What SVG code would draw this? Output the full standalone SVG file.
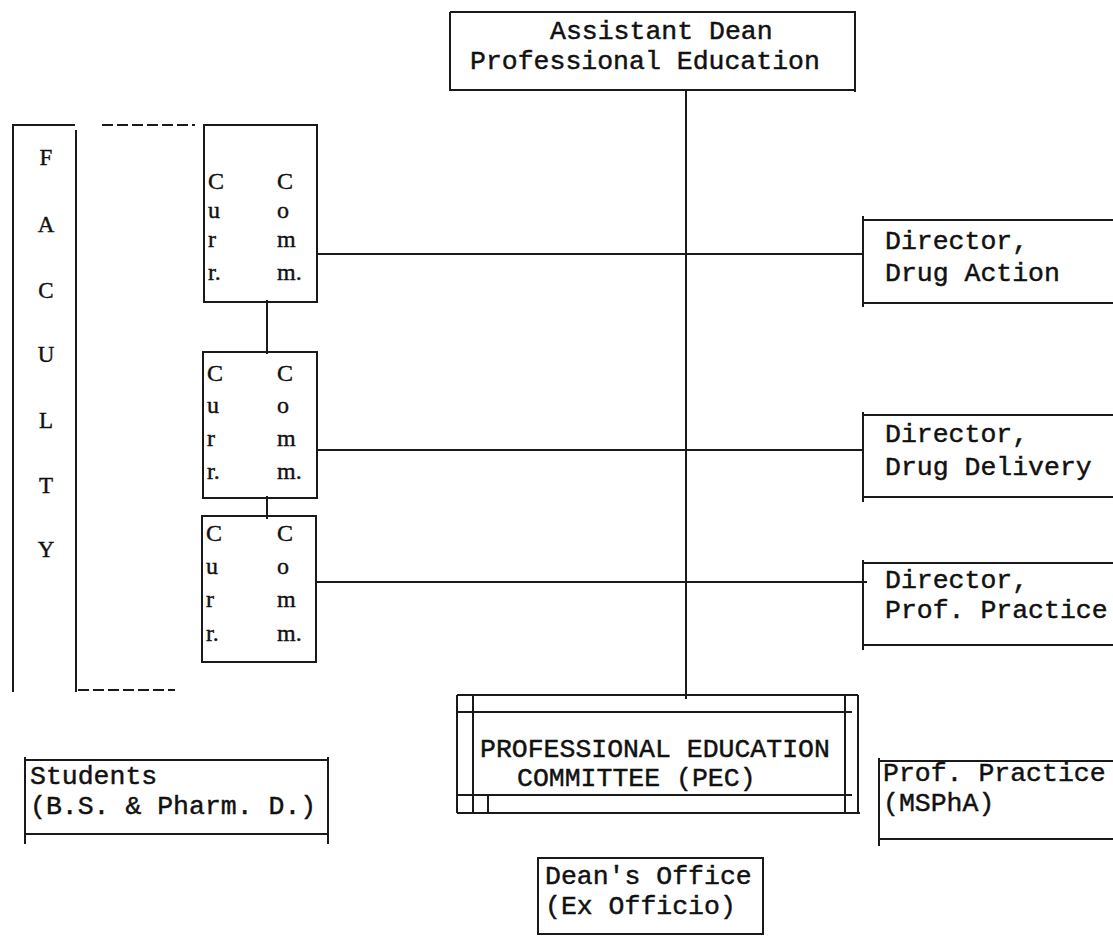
<svg xmlns="http://www.w3.org/2000/svg" width="1113" height="942" viewBox="0 0 1113 942">
<style>
.ln{stroke:#1a1a1a;stroke-width:2;fill:none}
.ds{stroke:#1a1a1a;stroke-width:2;fill:none;stroke-dasharray:11 4}
.tw{font-family:"Liberation Mono","DejaVu Sans Mono",monospace;font-size:26.5px;fill:#111;stroke:#111;stroke-width:0.45}
.sf{font-family:"Liberation Serif","DejaVu Serif",serif;font-size:24px;fill:#111;stroke:#111;stroke-width:0.4}
.fc{font-family:"Liberation Serif","DejaVu Serif",serif;font-size:23px;fill:#111;stroke:#111;stroke-width:0.4;text-anchor:middle}
</style>
<rect width="1113" height="942" fill="#fff"/>
<g id="connectors">
<path class="ln" d="M686 90V699M317 254H863M317 450H863M316 582H867M267 300V354M267 496V519"/>
<path class="ds" d="M102 125H195M78 690H175"/>
</g>
<g id="assistant-dean">
<path class="ln" d="M450 12H855V92M450 12V90H855"/>
<text class="tw" x="550" y="39">Assistant Dean</text>
<text class="tw" x="470" y="69">Professional Education</text>
</g>
<g id="faculty">
<path class="ln" d="M12 125H75M13 125V692M76 130V692"/>
<text class="fc" x="46" y="165">F</text>
<text class="fc" x="46" y="232">A</text>
<text class="fc" x="46" y="298">C</text>
<text class="fc" x="46" y="362">U</text>
<text class="fc" x="46" y="428">L</text>
<text class="fc" x="46" y="493">T</text>
<text class="fc" x="46" y="557">Y</text>
</g>
<g id="curr-comm-1">
<path class="ln" d="M204 125H317V302H204Z"/>
<text class="sf" x="208" y="189">C</text><text class="sf" x="277" y="189">C</text>
<text class="sf" x="208" y="218">u</text><text class="sf" x="277" y="218">o</text>
<text class="sf" x="208" y="247">r</text><text class="sf" x="277" y="247">m</text>
<text class="sf" x="208" y="280">r.</text><text class="sf" x="277" y="280">m.</text>
</g>
<g id="curr-comm-2">
<path class="ln" d="M203 352H317V498H203Z"/>
<text class="sf" x="207" y="381">C</text><text class="sf" x="277" y="381">C</text>
<text class="sf" x="207" y="413">u</text><text class="sf" x="277" y="413">o</text>
<text class="sf" x="207" y="446">r</text><text class="sf" x="277" y="446">m</text>
<text class="sf" x="207" y="479">r.</text><text class="sf" x="277" y="479">m.</text>
</g>
<g id="curr-comm-3">
<path class="ln" d="M202 516H316V662H202Z"/>
<text class="sf" x="206" y="541">C</text><text class="sf" x="277" y="541">C</text>
<text class="sf" x="206" y="574">u</text><text class="sf" x="277" y="574">o</text>
<text class="sf" x="206" y="607">r</text><text class="sf" x="277" y="607">m</text>
<text class="sf" x="206" y="641">r.</text><text class="sf" x="277" y="641">m.</text>
</g>
<g id="director-drug-action">
<path class="ln" d="M863 220H1113M863 303H1113M863 216V307"/>
<text class="tw" x="885" y="249">Director,</text>
<text class="tw" x="885" y="281">Drug Action</text>
</g>
<g id="director-drug-delivery">
<path class="ln" d="M863 415H1113M863 497H1113M863 412V502"/>
<text class="tw" x="885" y="442">Director,</text>
<text class="tw" x="885" y="475">Drug Delivery</text>
</g>
<g id="director-prof-practice">
<path class="ln" d="M863 563H1113M863 645H1113M863 560V650"/>
<text class="tw" x="885" y="588">Director,</text>
<text class="tw" x="885" y="618">Prof. Practice</text>
</g>
<g id="pec">
<path class="ln" d="M457 695H858M457 813H860M457 695V813M858 695V813M457 712H852M457 795H852M473 695V813M845 695V813M488 795V813"/>
<text class="tw" x="480" y="757">PROFESSIONAL EDUCATION</text>
<text class="tw" x="517" y="786">COMMITTEE (PEC)</text>
</g>
<g id="students">
<path class="ln" d="M25 760H328M25 834H328M25 757V844M328 757V844"/>
<text class="tw" x="30" y="784">Students</text>
<text class="tw" x="30" y="814">(B.S. &amp; Pharm. D.)</text>
</g>
<g id="prof-practice-msph">
<path class="ln" d="M879 761H1113M879 839H1113M879 758V846"/>
<text class="tw" x="883" y="781">Prof. Practice</text>
<text class="tw" x="883" y="811">(MSPhA)</text>
</g>
<g id="deans-office">
<path class="ln" d="M538 858H763V934H538Z"/>
<text class="tw" x="545" y="884">Dean's Office</text>
<text class="tw" x="545" y="914"> (Ex Officio)</text>
</g>
</svg>
